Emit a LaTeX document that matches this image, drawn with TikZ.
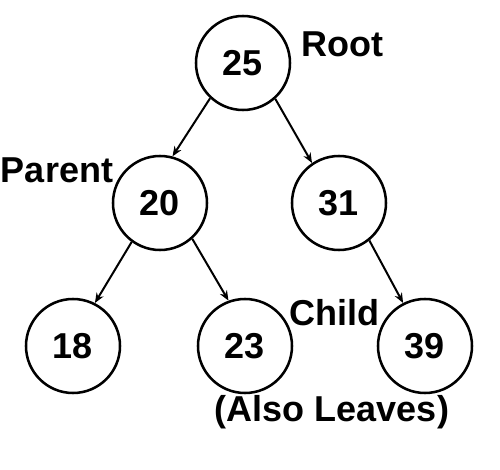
\documentclass[tikz,border=0pt]{standalone}
\usepackage{fontspec}
\setmainfont{Liberation Sans}
\usetikzlibrary{arrows.meta}

\begin{document}
\begin{tikzpicture}[>={Stealth[length=7.5pt,width=6pt]},x=0.75pt,y=-0.75pt,
    line join=round,
    key/.style={circle,draw,line width=1.9pt,minimum size=70.5pt,inner sep=0pt,
      font=\fontsize{27}{32}\selectfont\bfseries},
    tag/.style={font=\fontsize{27}{32}\selectfont\bfseries,inner sep=0pt},
    link/.style={->,line width=1.5pt}]
\useasboundingbox (0,0) rectangle (500,470);

%% ---------------- the keys ----------------
\node[key] (root) at (243,63)  {25};
\node[key] (n20)  at (160,203) {20};
\node[key] (n31)  at (339,203) {31};
\node[key] (n18)  at (73,346)  {18};
\node[key] (n23)  at (245,346) {23};
\node[key] (n39)  at (425,346) {39};

%% ---------------- the links ---------------
\draw[link] (root.227) -- (n20.75);
\draw[link] (root.312) -- (n31.124);
\draw[link] (n20.234)  -- (n18.63);
\draw[link] (n20.312)  -- (n23.110);
\draw[link] (n31.309)  -- (n39.117);

%% ---------------- the names ---------------
\node[tag] (rootname)   at (342,44)  {Root};
\node[tag] (parentname) at (57,170)  {Parent};
\node[tag] (childname)  at (334,313) {Child};
\node[tag] (leafname)   at (332,412) {(Also Leaves)};
\end{tikzpicture}
\end{document}
